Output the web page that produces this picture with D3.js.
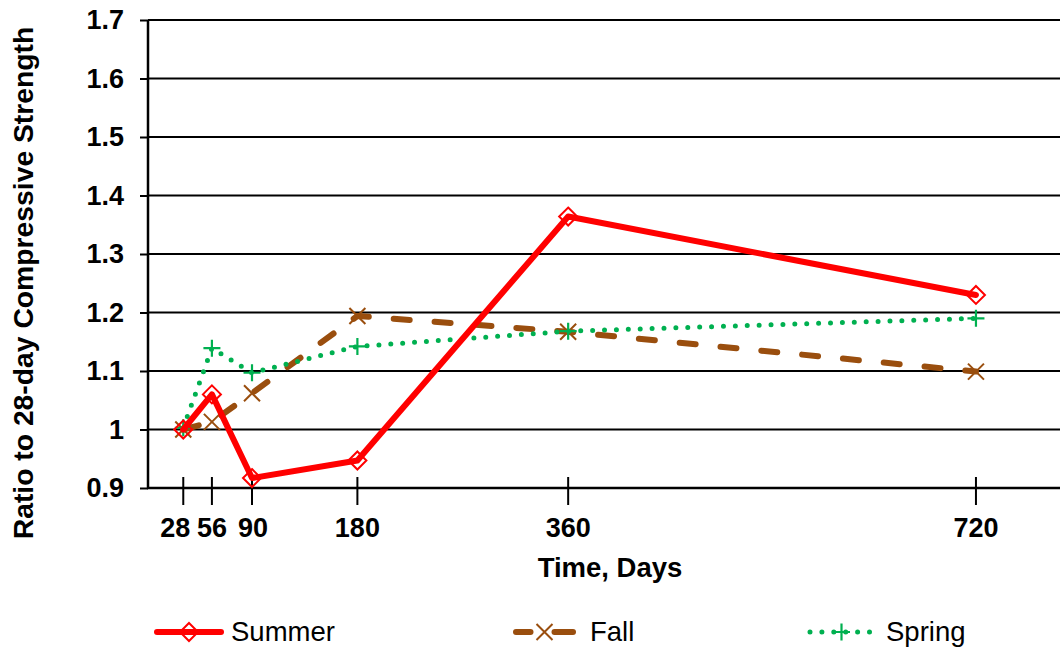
<!DOCTYPE html>
<html>
<head>
<meta charset="utf-8">
<script src="https://cdn.jsdelivr.net/npm/d3@7"></script>
<style>
  html, body { margin: 0; padding: 0; background: #fff; }
  svg { display: block; font-family: "Liberation Sans", Arial, sans-serif; }
</style>
</head>
<body>
<svg id="chart" width="1060" height="650"></svg>
<script>
// ---- data ----
const days = [28, 53, 88, 180, 364, 720];            // test ages
const tickLabels = ["28", "56", "90", "180", "360", "720"];
const yTicks = [0.9, 1, 1.1, 1.2, 1.3, 1.4, 1.5, 1.6, 1.7];
const yTickLabels = ["0.9", "1", "1.1", "1.2", "1.3", "1.4", "1.5", "1.6", "1.7"];
const summer = [1.0, 1.060, 0.917, 0.947, 1.364, 1.230];
const fall   = [1.0, 1.013, 1.062, 1.194, 1.167, 1.099];
const spring = [1.003, 1.139, 1.097, 1.142, 1.168, 1.190];
const seriesNames = ["Summer", "Fall", "Spring"];

// ---- layout ----
const W = 1060, H = 650;
const plotLeft = 148, plotRight = 1060, plotTop = 20, plotBottom = 488;
const labelShift = [-8, 0, 1, 0, 0, 0];   // horizontal nudge of crowded tick labels
const svg = d3.select("#chart");

const x = d3.scaleLinear().domain([0, 800]).range([151.2, 151.2 + 800 * 1.1455]);
const y = d3.scaleLinear().domain([0.9, 1.7]).range([plotBottom, plotTop]);

const colors = { Summer: "#FF0000", Fall: "#9A4E0E", Spring: "#00B050" };

// gridlines
svg.append("g").selectAll("line").data(yTicks.filter(v => v > 0.9)).join("line")
  .attr("x1", plotLeft).attr("x2", plotRight)
  .attr("y1", d => y(d)).attr("y2", d => y(d))
  .attr("stroke", "#000").attr("stroke-width", 2);

// y axis
const yAxis = d3.axisLeft(y).tickValues(yTicks).tickFormat((d, i) => yTickLabels[i])
  .tickSize(8).tickPadding(16);
const gy = svg.append("g").attr("transform", `translate(${plotLeft},0)`).call(yAxis);
gy.select(".domain").attr("stroke", "#000").attr("stroke-width", 2.5).attr("d", `M0,${plotTop}V${plotBottom}`);
gy.selectAll(".tick line").attr("stroke", "#000").attr("stroke-width", 2);
gy.selectAll(".tick text").attr("font-size", 27).attr("font-weight", "bold")
  .attr("font-family", "Liberation Sans, Arial, sans-serif").attr("fill", "#000");

// x axis line
svg.append("line").attr("x1", plotLeft - 1).attr("x2", plotRight)
  .attr("y1", plotBottom).attr("y2", plotBottom)
  .attr("stroke", "#000").attr("stroke-width", 2.5);

// x ticks at data ages, crossing the axis
const xTickG = svg.append("g");
xTickG.selectAll("line").data(days).join("line")
  .attr("x1", d => x(d)).attr("x2", d => x(d))
  .attr("y1", plotBottom - 11).attr("y2", plotBottom + 17)
  .attr("stroke", "#000").attr("stroke-width", 2);
xTickG.selectAll("text").data(days).join("text")
  .attr("x", (d, i) => x(d) + labelShift[i]).attr("y", 537)
  .attr("text-anchor", "middle").attr("font-size", 27).attr("font-weight", "bold")
  .text((d, i) => tickLabels[i]);

// axis titles
svg.append("text").attr("x", 610).attr("y", 577).attr("text-anchor", "middle")
  .attr("font-size", 27.5).attr("font-weight", "bold").text("Time, Days");
svg.append("text").attr("transform", "translate(33,283) rotate(-90)")
  .attr("text-anchor", "middle").attr("font-size", 28.3).attr("font-weight", "bold")
  .text("Ratio to 28-day Compressive Strength");

// ---- series ----
const line = d3.line().x(d => x(d[0])).y(d => y(d[1]));
const pts = vals => days.map((d, i) => [d, vals[i]]);

const styles = {
  Summer: { width: 6, dash: null, cap: "round" },
  Fall:   { width: 6, dash: "16 25", cap: "round" },
  Spring: { width: 5, dash: "0 11.9", cap: "round" }
};

function marker(g, name, cx, cy) {
  const c = colors[name];
  if (name === "Summer") {
    const r = 9;
    g.append("path").attr("d", `M${cx},${cy - r}L${cx + r},${cy}L${cx},${cy + r}L${cx - r},${cy}Z`)
      .attr("fill", "#fff").attr("fill-opacity", 0).attr("stroke", c).attr("stroke-width", 2);
  } else if (name === "Fall") {
    const r = 8;
    g.append("path").attr("d", `M${cx - r},${cy - r}L${cx + r},${cy + r}M${cx - r},${cy + r}L${cx + r},${cy - r}`)
      .attr("stroke", c).attr("stroke-width", 2);
  } else {
    const r = 8.5;
    g.append("path").attr("d", `M${cx - r},${cy}L${cx + r},${cy}M${cx},${cy - r}L${cx},${cy + r}`)
      .attr("stroke", c).attr("stroke-width", 2.2);
  }
}

const seriesData = { Summer: summer, Fall: fall, Spring: spring };
["Fall", "Spring", "Summer"].forEach(name => {
  const g = svg.append("g");
  const st = styles[name];
  g.append("path").datum(pts(seriesData[name])).attr("d", line)
    .attr("fill", "none").attr("stroke", colors[name]).attr("stroke-width", st.width)
    .attr("stroke-linecap", st.cap).attr("stroke-linejoin", "round")
    .attr("stroke-dasharray", st.dash);
  pts(seriesData[name]).forEach(p => marker(g, name, x(p[0]), y(p[1])));
});

// ---- legend ----
const legendItems = [
  { name: "Summer", x0: 154, x1: 224, tx: 231 },
  { name: "Fall",   x0: 513, x1: 576, tx: 590 },
  { name: "Spring", x0: 808, x1: 875, tx: 886 }
];
const ly = 632;
legendItems.forEach(it => {
  const g = svg.append("g");
  const st = styles[it.name];
  if (it.name === "Fall") {
    const mid = (it.x0 + it.x1) / 2;
    [[it.x0 + 3, mid - 14], [mid + 10, it.x1 - 3]].forEach(seg => {
      g.append("line").attr("x1", seg[0]).attr("x2", seg[1]).attr("y1", ly).attr("y2", ly)
        .attr("stroke", colors.Fall).attr("stroke-width", st.width).attr("stroke-linecap", "round");
    });
  } else {
    g.append("line").attr("x1", it.x0 + (it.name === "Summer" ? 3 : 2)).attr("x2", it.x1 - 3)
      .attr("y1", ly).attr("y2", ly)
      .attr("stroke", colors[it.name]).attr("stroke-width", st.width)
      .attr("stroke-linecap", st.cap).attr("stroke-dasharray", st.dash);
  }
  marker(g, it.name, (it.x0 + it.x1) / 2, ly);
  g.append("text").attr("x", it.tx).attr("y", 641).attr("font-size", 27.5).text(it.name);
});
</script>
</body>
</html>
